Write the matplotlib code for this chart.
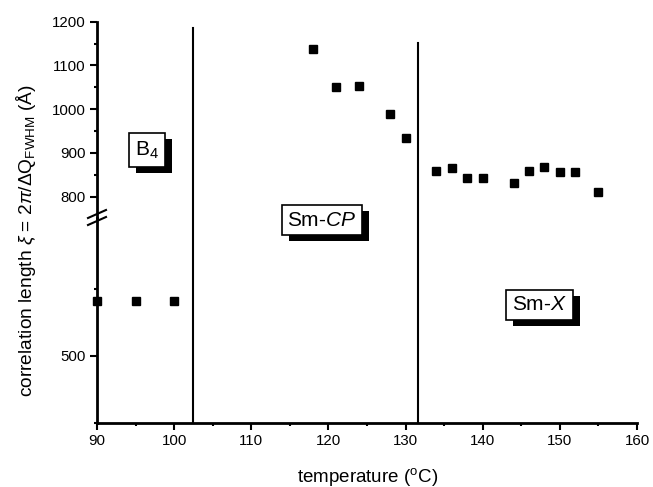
import matplotlib
matplotlib.use("Agg")
import matplotlib.pyplot as plt
import matplotlib.patheffects as pe
from matplotlib.lines import Line2D
from matplotlib.transforms import blended_transform_factory

plt.rcParams['font.family'] = ['Liberation Sans', 'DejaVu Sans']
plt.rcParams['mathtext.fontset'] = 'custom'
plt.rcParams['mathtext.rm'] = 'Liberation Sans'
plt.rcParams['mathtext.it'] = 'Liberation Sans:italic'

# data
temps_low = [90, 95, 100]
corr_low = [541, 541, 541]
temps_high = [118, 121, 124, 128, 130, 134, 136, 138, 140, 144, 146, 148, 150, 152, 155]
corr_high = [1137, 1050, 1053, 988, 934, 859, 865, 843, 843, 831, 859, 867, 857, 857, 810]
phase_bounds = [102.4, 131.6]
x_ticks = [90, 100, 110, 120, 130, 140, 150, 160]
y_ticks_high = [800, 900, 1000, 1100, 1200]
y_ticks_low = [500]

W, H = 653, 487
fig = plt.figure(figsize=(W / 100, H / 100), dpi=100)

left, right = 97 / W, 637 / W
y_break = 218
ax_lo = fig.add_axes([left, (H - 422.7) / H, right - left, (422.7 - y_break) / H])
ax_hi = fig.add_axes([left, (H - y_break) / H, right - left, (y_break - 21.7) / H])

for ax in (ax_lo, ax_hi):
    ax.set_xlim(90, 160)
    for s in ('top', 'right'):
        ax.spines[s].set_visible(False)
    ax.spines['left'].set_linewidth(2)
    ax.spines['bottom'].set_linewidth(2)
    ax.tick_params(which='major', direction='out', length=5, width=1.5, labelsize=10.8, pad=3)
    ax.tick_params(which='minor', direction='out', length=2.5, width=1.5)
    ax.patch.set_alpha(0)

ax_hi.spines['bottom'].set_visible(False)
ax_hi.tick_params(axis='x', which='both', bottom=False, labelbottom=False)

ax_lo.set_ylim(450, 603)
ax_lo.set_yticks(y_ticks_low)
ax_lo.set_yticks([450, 550], minor=True)
ax_lo.set_xticks(x_ticks)
ax_lo.set_xticks([95, 105, 115, 125, 135, 145, 155], minor=True)

ax_hi.set_ylim(751, 1200)
ax_hi.set_yticks(y_ticks_high)
ax_hi.set_yticks([850, 950, 1050, 1150], minor=True)

ax_lo.plot(temps_low, corr_low, 's', color='black', ms=6, clip_on=False)
ax_hi.plot(temps_high, corr_high, 's', color='black', ms=6, clip_on=False)

# phase boundaries
tr = blended_transform_factory(ax_lo.transData, fig.transFigure)
tops = [(H - 28) / H, (H - 43) / H]
bot = (H - 422.7) / H
for xb, tp in zip(phase_bounds, tops):
    fig.add_artist(Line2D([xb, xb], [bot, tp], transform=tr, color='black', lw=1.5))

# break marks
for yy in (214, 221):
    fig.add_artist(Line2D([88 / W, 106 / W], [(H - yy - 4) / H, (H - yy + 4) / H],
                          transform=fig.transFigure, color='black', lw=1.5))

# phase labels
def label(x, y, s, fs=15, pad=0.3):
    t = fig.text(x / W, 1 - y / H, s, fontsize=fs, ha='center', va='center',
                 bbox=dict(boxstyle='square,pad=%g' % pad, fc='white', ec='black', lw=1.2))
    t.get_bbox_patch().set_path_effects([
        pe.SimplePatchShadow(offset=(5, -4.3), shadow_rgbFace='black', alpha=1.0),
        pe.Normal()])

label(147, 150, r'B$_4$', fs=15, pad=0.3)
label(322, 220, r'Sm-$\mathit{CP}$', fs=15, pad=0.28)
label(539.5, 305, r'Sm-$\mathit{X}$', fs=15, pad=0.28)

fig.text(368 / W, 1 - 477 / H, r'temperature ($^{\rm o}$C)', fontsize=13.5, ha='center', va='center')
fig.text(26 / W, 1 - 241 / H,
         r'correlation length $\xi$ = 2$\pi$/$\Delta$Q$_{\rm FWHM}$ (Å)',
         fontsize=13.8, rotation=90, ha='center', va='center')

fig.savefig('out.png', dpi=100)
